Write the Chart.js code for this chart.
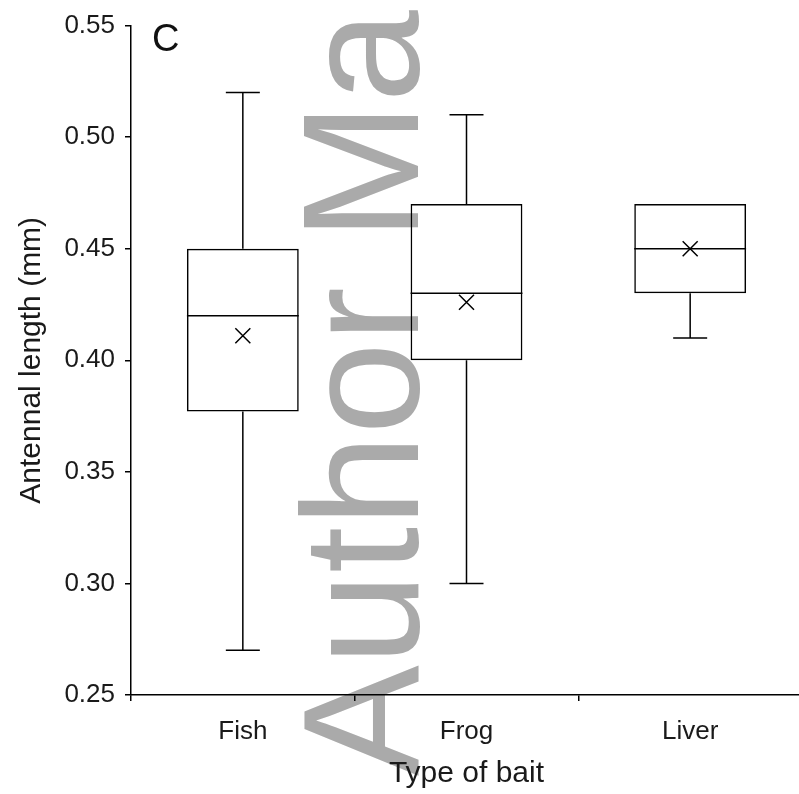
<!DOCTYPE html>
<html>
<head>
<meta charset="utf-8">
<script src="https://cdn.jsdelivr.net/npm/chart.js@4"></script>
<style>
  html, body { margin: 0; background: #fff; overflow: hidden; }
  #wrap { width: 802px; height: 794px; }
</style>
</head>
<body>
<div id="wrap"><canvas id="baitChart"></canvas></div>
<script>
// Data
const categories = ['Fish', 'Frog', 'Liver'];
const whiskerMin = [0.27, 0.30, 0.41];
const quartile1 = [0.377, 0.40, 0.43];
const medians = [0.42, 0.43, 0.45];
const quartile3 = [0.45, 0.47, 0.47];
const whiskerMax = [0.52, 0.51, 0.47];
const means = [0.411, 0.426, 0.45];

const FONT = '"Liberation Sans", Arial, sans-serif';
const INK = '#1a1a1a';

// white background + grey watermark behind everything
const backgroundPlugin = {
    id: 'background',
    beforeDraw(chart) {
        const ctx = chart.ctx;
        ctx.save();
        ctx.fillStyle = '#fff';
        ctx.fillRect(0, 0, chart.width, chart.height);
        ctx.translate(418, 776);
        ctx.rotate(-Math.PI / 2);
        ctx.font = '166px ' + FONT;
        ctx.fillStyle = '#aaaaaa';
        ctx.textBaseline = 'alphabetic';
        ctx.fillText('Author Manuscript', 0, 0);
        ctx.restore();
    }
};

// whiskers, median lines and mean crosses for each box
const whiskerPlugin = {
    id: 'whiskers',
    afterDatasetsDraw(chart) {
        const ctx = chart.ctx;
        const y = chart.scales.y;
        const bars = chart.getDatasetMeta(0).data;
        ctx.save();
        ctx.strokeStyle = '#000';
        ctx.lineWidth = 1.5;
        bars.forEach((bar, i) => {
            const half = bar.width / 2;
            const cap = 17;
            const mark = 7.5;
            ctx.beginPath();
            // median
            ctx.moveTo(bar.x - half, y.getPixelForValue(medians[i]));
            ctx.lineTo(bar.x + half, y.getPixelForValue(medians[i]));
            // upper whisker
            if (whiskerMax[i] > quartile3[i]) {
                ctx.moveTo(bar.x, y.getPixelForValue(quartile3[i]));
                ctx.lineTo(bar.x, y.getPixelForValue(whiskerMax[i]));
                ctx.moveTo(bar.x - cap, y.getPixelForValue(whiskerMax[i]));
                ctx.lineTo(bar.x + cap, y.getPixelForValue(whiskerMax[i]));
            }
            // lower whisker
            if (whiskerMin[i] < quartile1[i]) {
                ctx.moveTo(bar.x, y.getPixelForValue(quartile1[i]));
                ctx.lineTo(bar.x, y.getPixelForValue(whiskerMin[i]));
                ctx.moveTo(bar.x - cap, y.getPixelForValue(whiskerMin[i]));
                ctx.lineTo(bar.x + cap, y.getPixelForValue(whiskerMin[i]));
            }
            ctx.stroke();
            // mean marker (x)
            const my = y.getPixelForValue(means[i]);
            ctx.beginPath();
            ctx.moveTo(bar.x - mark, my - mark);
            ctx.lineTo(bar.x + mark, my + mark);
            ctx.moveTo(bar.x - mark, my + mark);
            ctx.lineTo(bar.x + mark, my - mark);
            ctx.stroke();
        });
        ctx.restore();
    },
    afterDraw(chart) {
        // panel letter
        const ctx = chart.ctx;
        ctx.save();
        ctx.font = '38px ' + FONT;
        ctx.fillStyle = '#111';
        ctx.textBaseline = 'alphabetic';
        ctx.fillText('C', 152, 51);
        ctx.restore();
    }
};

const ctx = document.getElementById('baitChart').getContext('2d');
new Chart(ctx, {
    type: 'bar',
    data: {
        labels: categories,
        datasets: [{
            label: 'Interquartile range',
            data: quartile1.map((q, i) => [q, quartile3[i]]),
            backgroundColor: 'rgba(0,0,0,0)',
            borderColor: '#000',
            borderWidth: 1.5,
            borderSkipped: false,
            barPercentage: 0.5,
            categoryPercentage: 1
        }]
    },
    options: {
        responsive: true,
        maintainAspectRatio: false,
        animation: false,
        layout: { padding: { top: 24, right: 0, left: 0, bottom: 0 } },
        plugins: {
            legend: { display: false },
            tooltip: { enabled: false }
        },
        scales: {
            x: {
                offset: true,
                grid: { display: true, drawOnChartArea: false, offset: true, tickLength: 6, color: '#000', lineWidth: 1.5 },
                border: { color: '#000', width: 1.5 },
                ticks: { color: INK, font: { family: FONT, size: 26 }, padding: 15 },
                title: { display: true, text: 'Type of bait', color: INK, font: { family: FONT, size: 30 }, padding: { top: 0, bottom: 2 } },
                afterFit(scale) { scale.height = 99; }
            },
            y: {
                min: 0.25,
                max: 0.55,
                grid: { display: true, drawOnChartArea: false, tickLength: 6, color: '#000', lineWidth: 1.5 },
                border: { color: '#000', width: 1.5 },
                ticks: {
                    stepSize: 0.05,
                    color: INK,
                    font: { family: FONT, size: 26 },
                    padding: 10,
                    callback: v => v.toFixed(2)
                },
                title: { display: true, text: 'Antennal length (mm)', color: INK, font: { family: FONT, size: 30 }, padding: { top: 14, bottom: 0 } },
                afterFit(scale) { scale.width = 131; }
            }
        }
    },
    plugins: [backgroundPlugin, whiskerPlugin]
});
</script>
</body>
</html>
